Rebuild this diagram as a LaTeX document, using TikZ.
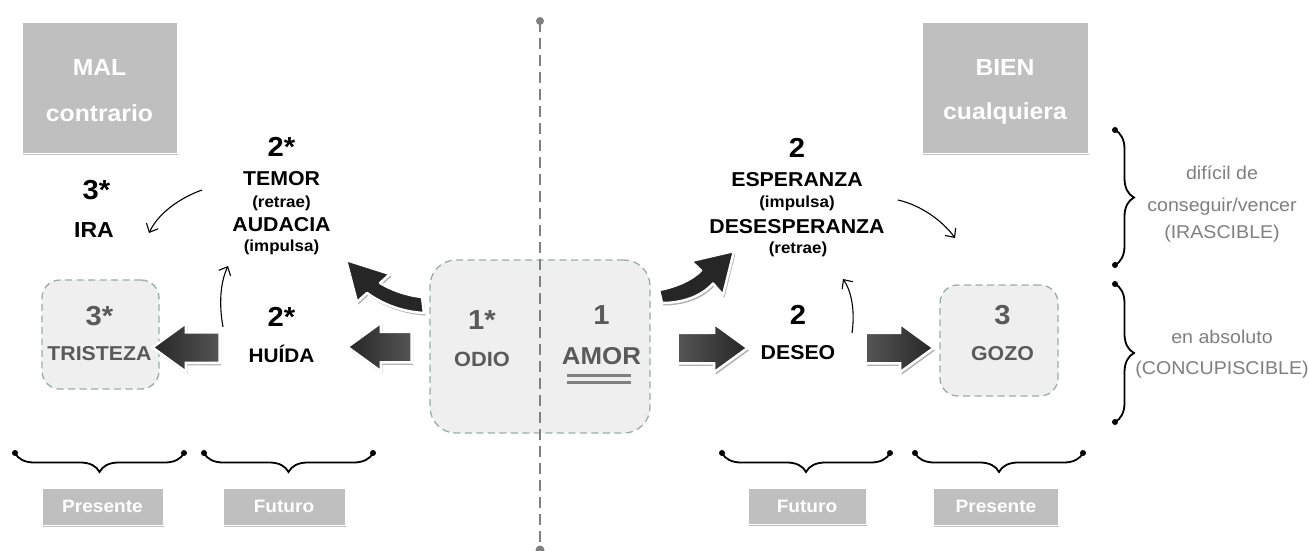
\documentclass[tikz,border=0pt]{standalone}
\usepackage{fontspec}
\setmainfont{Liberation Sans}[FakeStretch=1.06]
\usetikzlibrary{shapes.arrows,shadows,decorations.pathreplacing,arrows.meta}
\definecolor{lblgray}{HTML}{BFBFBF}
\definecolor{boxfill}{HTML}{EFEFEF}
\definecolor{dashc}{HTML}{9AADA8}
\definecolor{intxt}{HTML}{5A5A5A}
\definecolor{sidetxt}{HTML}{7F7F7F}
\definecolor{arrdark}{HTML}{262626}
\definecolor{arrlight}{HTML}{555555}
\definecolor{vlinec}{HTML}{808080}
\newcommand\fsz[1]{\fontsize{#1}{#1}\selectfont}
\begin{document}
\begin{tikzpicture}[x=1pt,y=-1pt,
  lbl/.style={fill=lblgray, draw=white, line width=0.8pt, inner sep=0pt,
    drop shadow={shadow xshift=0.6pt, shadow yshift=-2pt, fill=black, opacity=0.25}},
  lbltxt/.style={text=white, inner sep=0pt, font=\fsz{18}\bfseries},
  headtxt/.style={text=white, inner sep=0pt, font=\fsz{23.3}\bfseries},
  softbox/.style={draw=dashc, fill=boxfill, dash pattern=on 7pt off 4.5pt, line width=1.3pt, inner sep=0pt},
  numtxt/.style={inner sep=0pt, font=\fsz{27.5}\bfseries},
  bigtxt/.style={inner sep=0pt, font=\fsz{20.1}\bfseries},
  partxt/.style={inner sep=0pt, font=\fsz{16}\bfseries},
  sidet/.style={inner sep=0pt, text=sidetxt, font=\fsz{18.5}},
  blockarr/.style={single arrow, inner xsep=0pt, inner ysep=14pt, single arrow tip angle=72,
    single arrow head extend=9pt, draw=white, line width=2.5pt,
    drop shadow={shadow xshift=1.5pt, shadow yshift=-2.5pt, fill=black, opacity=0.3}},
  curvarr/.style={draw=white, line width=2.5pt, line join=round, fill=arrdark,
    drop shadow={shadow xshift=1.5pt, shadow yshift=-2.5pt, fill=black, opacity=0.3}},
  thinarr/.style={-{Straight Barb[length=7pt,width=13pt]}, line width=1.1pt, black},
  bracel/.style={decorate, decoration={brace, amplitude=19pt}, line width=1.8pt, black},
  dotend/.style={fill=black},
  vline/.style={draw=vlinec, line width=2pt, dash pattern=on 11pt off 6pt}
]
\useasboundingbox (0,0) rectangle (1309,551);
\fill[white] (0,0) rectangle (1309,551);

% header boxes
\node[lbl, minimum width=155pt, minimum height=131pt] (mal) at (99.5,87.5) {};
\node[headtxt] (malA) at (99.5,67) {MAL};
\node[headtxt] (malB) at (99.5,113) {contrario};
\node[lbl, minimum width=166pt, minimum height=131pt] (bien) at (1005,87.5) {};
\node[headtxt] (bienA) at (1005,67) {BIEN};
\node[headtxt] (bienB) at (1005,113) {cualquiera};

% central box
\node[softbox, rounded corners=26pt, minimum width=220pt, minimum height=173pt] (centro) at (540,346.5) {};
\node[numtxt, text=intxt] (n1s) at (482,320) {1*};
\node[inner sep=0pt, text=intxt, font=\fsz{20.6}\bfseries] (odio) at (482,359) {ODIO};
\node[numtxt, text=intxt] (n1) at (601.5,315) {1};
\node[inner sep=0pt, text=intxt, font=\fsz{24.4}\bfseries] (amor) at (601.5,356) {AMOR};
\draw[line width=2.2pt, vlinec] (567,375.5) -- (631,375.5);
\draw[line width=2.2pt, vlinec] (567,382.5) -- (631,382.5);

% vertical dashed line
\coordinate (vtop) at (540,21);
\coordinate (vbot) at (540,550);
\draw[vline] (vtop) -- (vbot);
\fill[vlinec] (vtop) circle (4pt);
\fill[vlinec] (vbot) circle (4.5pt);

% side boxes
\node[softbox, rounded corners=18pt, minimum width=117pt, minimum height=109pt] (trist) at (100.5,334.5) {};
\node[numtxt, text=intxt] (n3s) at (99.5,316.5) {3*};
\node[inner sep=0pt, text=intxt, font=\fsz{20.1}\bfseries] (tristt) at (99.5,353.5) {TRISTEZA};
\node[softbox, rounded corners=18pt, minimum width=118pt, minimum height=111pt] (gozo) at (999,340.5) {};
\node[numtxt, text=intxt] (n3) at (1002.5,315) {3};
\node[inner sep=0pt, text=intxt, font=\fsz{20.1}\bfseries] (gozot) at (1002.5,354) {GOZO};

% left texts
\node[numtxt] (n2sa) at (281.5,147) {2*};
\node[bigtxt] (temor) at (281.5,179) {TEMOR};
\node[partxt] (retA) at (281.5,203) {(retrae)};
\node[bigtxt] (auda) at (281.5,225) {AUDACIA};
\node[partxt] (impA) at (281.5,247) {(impulsa)};
\node[numtxt] (n3sa) at (96.5,190) {3*};
\node[inner sep=0pt, font=\fsz{21.7}\bfseries] (ira) at (94,230) {IRA};
\node[numtxt] (n2sb) at (281.5,317) {2*};
\node[inner sep=0pt, font=\fsz{19.6}\bfseries] (huida) at (281.5,353.5) {HUÍDA};

% right texts
\node[numtxt] (n2a) at (797,148) {2};
\node[bigtxt] (esper) at (797,180) {ESPERANZA};
\node[partxt] (impB) at (797,203) {(impulsa)};
\node[bigtxt] (desesp) at (797,226.5) {DESESPERANZA};
\node[partxt] (retB) at (798,249) {(retrae)};
\node[numtxt] (n2b) at (798,315) {2};
\node[inner sep=0pt, font=\fsz{20.1}\bfseries] (deseo) at (798,353) {DESEO};

% side descriptions
\node[sidet] (s1) at (1222,173) {difícil de};
\node[sidet] (s2) at (1222,206.5) {conseguir/vencer};
\node[sidet] (s3) at (1222,234) {(IRASCIBLE)};
\node[sidet] (s4) at (1222,336.5) {en absoluto};
\node[sidet] (s5) at (1222,370) {(CONCUPISCIBLE)};

% block arrows
\node[blockarr, shape border rotate=180, minimum height=67pt, left color=arrdark, right color=arrlight] (aht) at (196.5,347.5) {};
\node[blockarr, shape border rotate=180, minimum height=64pt, left color=arrdark, right color=arrlight] (aoh) at (390,347) {};
\node[blockarr, minimum height=70pt, left color=arrlight, right color=arrdark] (aad) at (702,348) {};
\node[blockarr, minimum height=68pt, left color=arrlight, right color=arrdark] (adg) at (889,348) {};

% curved block arrows
\path[curvarr] (346,260) -- (390,274) -- (380,283) .. controls (392,290) and (405,295) .. (422,297)
  -- (424,313) .. controls (405,312) and (385,306) .. (367,293) -- (357,302) -- cycle;
\path[curvarr] (734,251) -- (723,295) -- (713,283.5) .. controls (700,298) and (680,303) .. (662,303)
  -- (659,290) .. controls (675,287) and (692,280) .. (701,270.5) -- (691,261) -- cycle;

% thin arrows
\coordinate (t1a) at (202,190); \coordinate (t1b) at (149,233);
\draw[thinarr] (t1a) .. controls (185,196) and (160,210) .. (t1b);
\coordinate (t2a) at (223,327); \coordinate (t2b) at (228,266);
\draw[thinarr] (t2a) .. controls (219,305) and (220,283) .. (t2b);
\coordinate (t3a) at (898,200); \coordinate (t3b) at (955,238);
\draw[thinarr] (t3a) .. controls (920,205) and (942,220) .. (t3b);
\coordinate (t4a) at (852,333); \coordinate (t4b) at (843,279);
\draw[thinarr] (t4a) .. controls (855,312) and (852,292) .. (t4b);

% bottom braces
\foreach \a/\b in {15/184, 204/373, 722/890, 915/1083}{
  \draw[bracel, decoration={mirror}] (\a,453) -- (\b,453);
  \fill[dotend] (\a,453) circle (3pt);
  \fill[dotend] (\b,453) circle (3pt);
}
% right braces
\foreach \a/\b in {130/265, 284/422}{
  \draw[bracel] (1115,\a) -- (1115,\b);
  \fill[dotend] (1115,\a) circle (3pt);
  \fill[dotend] (1115,\b) circle (3pt);
}

% bottom labels
\node[lbl, minimum width=121pt, minimum height=37pt] (pres1) at (102.5,506.5) {};
\node[lbltxt] at (pres1) {Presente};
\node[lbl, minimum width=122pt, minimum height=37pt] (fut1) at (284,506.5) {};
\node[lbltxt] at (fut1) {Futuro};
\node[lbl, minimum width=118pt, minimum height=36pt] (fut2) at (807,506) {};
\node[lbltxt] at (fut2) {Futuro};
\node[lbl, minimum width=125pt, minimum height=37pt] (pres2) at (996,506.5) {};
\node[lbltxt] at (pres2) {Presente};
\end{tikzpicture}
\end{document}
